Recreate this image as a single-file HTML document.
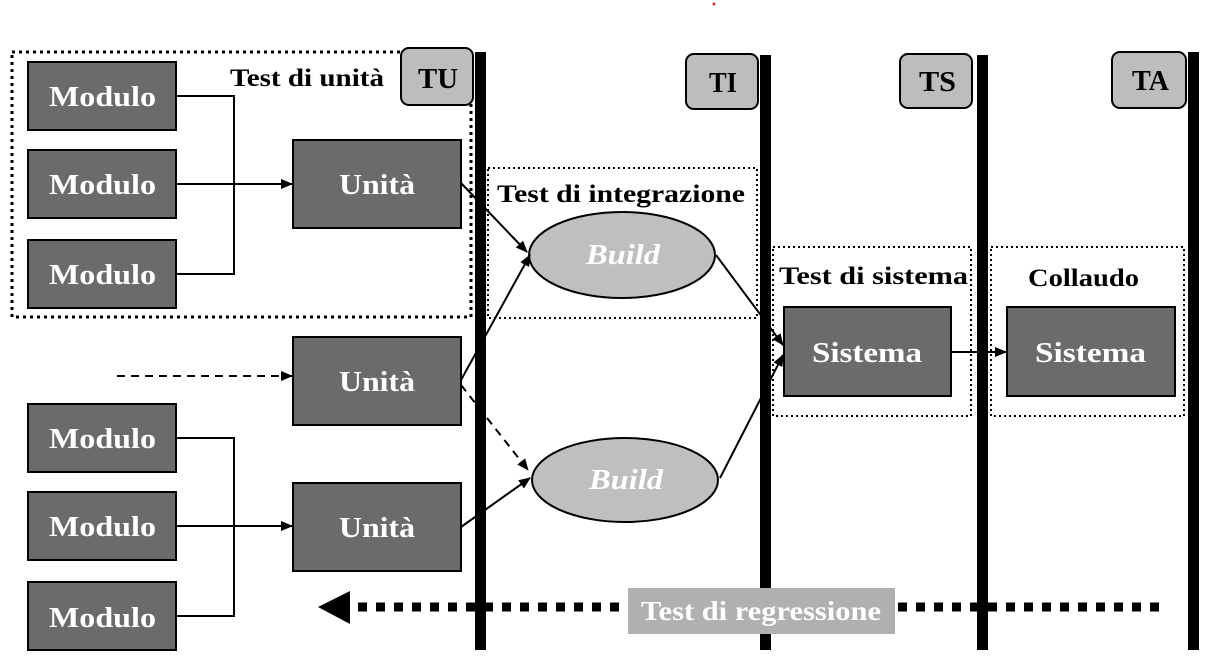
<!DOCTYPE html>
<html><head><meta charset="utf-8"><style>
html,body{margin:0;padding:0;background:#fff;width:1219px;height:672px;overflow:hidden}
text{font-family:"Liberation Serif",serif;font-weight:bold}
</style></head><body>
<svg width="1219" height="672" viewBox="0 0 1219 672" xmlns="http://www.w3.org/2000/svg">
<defs>
<marker id="a" markerWidth="12" markerHeight="12" refX="11" refY="6" orient="auto" markerUnits="userSpaceOnUse"><path d="M0,1 L12,6 L0,11 z" fill="#000"/></marker>
</defs>
<circle cx="714" cy="4" r="1.5" fill="#d33"/>
<rect x="475" y="52" width="11" height="598" fill="#000"/>
<rect x="760" y="55" width="11" height="595" fill="#000"/>
<rect x="977" y="55" width="11" height="595" fill="#000"/>
<rect x="1188" y="52" width="11" height="598" fill="#000"/>
<rect x="12" y="52" width="459" height="265" fill="none" stroke="#000" stroke-width="3" stroke-dasharray="3 4"/>
<rect x="488" y="168" width="269" height="150" fill="none" stroke="#000" stroke-width="2" stroke-dasharray="2 3"/>
<rect x="773" y="247" width="198" height="169" fill="none" stroke="#000" stroke-width="2" stroke-dasharray="2 3"/>
<rect x="991" y="247" width="193" height="169" fill="none" stroke="#000" stroke-width="2" stroke-dasharray="2 3"/>
<g fill="#bdbdbd" stroke="#000" stroke-width="2">
<rect x="401" y="48" width="72" height="57" rx="8"/>
<rect x="686" y="54" width="72" height="55" rx="8"/>
<rect x="900" y="54" width="72" height="54" rx="8"/>
<rect x="1112" y="52" width="74" height="56" rx="8"/>
</g>
<g font-size="28" fill="#000" lengthAdjust="spacingAndGlyphs">
<text x="418" y="88" textLength="40" lengthAdjust="spacingAndGlyphs">TU</text>
<text x="709" y="92" textLength="28" lengthAdjust="spacingAndGlyphs">TI</text>
<text x="919" y="91" textLength="37" lengthAdjust="spacingAndGlyphs">TS</text>
<text x="1132" y="90" textLength="37" lengthAdjust="spacingAndGlyphs">TA</text>
</g>
<g fill="#6b6b6b" stroke="#000" stroke-width="2">
<rect x="28" y="62" width="148" height="68"/><rect x="28" y="150" width="148" height="68"/><rect x="28" y="240" width="148" height="68"/>
<rect x="28" y="404" width="148" height="68"/><rect x="28" y="492" width="148" height="68"/><rect x="28" y="582" width="148" height="68"/>
<rect x="293" y="140" width="168" height="88"/><rect x="293" y="337" width="168" height="88"/><rect x="293" y="483" width="168" height="88"/>
<rect x="784" y="307" width="167" height="89"/><rect x="1007" y="307" width="168" height="89"/>
</g>
<g font-size="28" fill="#fff">
<text x="49" y="106" textLength="107" lengthAdjust="spacingAndGlyphs">Modulo</text>
<text x="49" y="194" textLength="107" lengthAdjust="spacingAndGlyphs">Modulo</text>
<text x="49" y="284" textLength="107" lengthAdjust="spacingAndGlyphs">Modulo</text>
<text x="49" y="448" textLength="107" lengthAdjust="spacingAndGlyphs">Modulo</text>
<text x="49" y="536" textLength="107" lengthAdjust="spacingAndGlyphs">Modulo</text>
<text x="49" y="627" textLength="107" lengthAdjust="spacingAndGlyphs">Modulo</text>
<text x="339" y="194" textLength="76" lengthAdjust="spacingAndGlyphs">Unità</text>
<text x="339" y="391" textLength="76" lengthAdjust="spacingAndGlyphs">Unità</text>
<text x="339" y="537" textLength="76" lengthAdjust="spacingAndGlyphs">Unità</text>
<text x="812" y="362" textLength="110" lengthAdjust="spacingAndGlyphs">Sistema</text>
<text x="1035" y="362" textLength="111" lengthAdjust="spacingAndGlyphs">Sistema</text>
</g>
<ellipse cx="622" cy="255" rx="93" ry="43" fill="#bfbfbf" stroke="#000" stroke-width="2"/>
<ellipse cx="625" cy="480" rx="93" ry="42" fill="#bfbfbf" stroke="#000" stroke-width="2"/>
<g font-size="28" fill="#fff" style="font-style:italic">
<text x="586" y="264" textLength="74" lengthAdjust="spacingAndGlyphs">Build</text>
<text x="589" y="489" textLength="74" lengthAdjust="spacingAndGlyphs">Build</text>
</g>
<g font-size="25" fill="#000">
<text x="230" y="86" textLength="154" lengthAdjust="spacingAndGlyphs">Test di unità</text>
<text x="497" y="202" textLength="248" lengthAdjust="spacingAndGlyphs">Test di integrazione</text>
<text x="779" y="284" textLength="189" lengthAdjust="spacingAndGlyphs">Test di sistema</text>
<text x="1028" y="286" textLength="111" lengthAdjust="spacingAndGlyphs">Collaudo</text>
</g>
<g stroke="#000" stroke-width="2" fill="none">
<polyline points="176,96 234,96 234,274 176,274"/>
<polyline points="176,438 234,438 234,616 176,616"/>
<line x1="176" y1="184" x2="292" y2="184" marker-end="url(#a)"/>
<line x1="176" y1="526" x2="292" y2="526" marker-end="url(#a)"/>
<line x1="117" y1="376" x2="292" y2="376" stroke-dasharray="8 6" marker-end="url(#a)"/>
<line x1="461" y1="183" x2="527" y2="252" marker-end="url(#a)"/>
<line x1="461" y1="380" x2="530" y2="255" marker-end="url(#a)"/>
<line x1="461" y1="385" x2="528" y2="470" stroke-dasharray="8 6" marker-end="url(#a)"/>
<line x1="461" y1="527" x2="530" y2="478" marker-end="url(#a)"/>
<line x1="716" y1="255" x2="783" y2="345" marker-end="url(#a)"/>
<line x1="720" y1="478" x2="783" y2="355" marker-end="url(#a)"/>
<line x1="951" y1="352" x2="1006" y2="352" marker-end="url(#a)"/>
</g>
<line x1="358" y1="607" x2="1162" y2="607" stroke="#000" stroke-width="9" stroke-dasharray="9 9"/>
<path d="M318,607 L350,591 L350,624 z" fill="#000"/>
<rect x="628" y="588" width="267" height="46" fill="#b0b0b0"/>
<text x="641" y="620" font-size="27" fill="#fff" textLength="240" lengthAdjust="spacingAndGlyphs">Test di regressione</text>
</svg>
</body></html>
